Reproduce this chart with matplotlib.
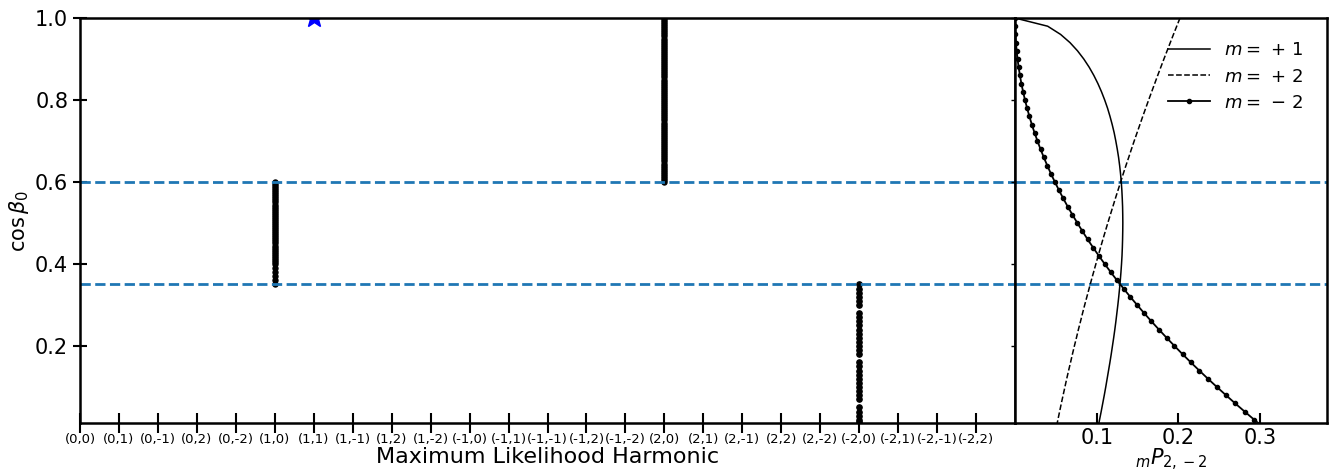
import numpy as np
import matplotlib
matplotlib.use("Agg")
import matplotlib.pyplot as plt

# harmonic labels on the x axis of the left panel
harmonics = ["(0,0)", "(0,1)", "(0,-1)", "(0,2)", "(0,-2)",
             "(1,0)", "(1,1)", "(1,-1)", "(1,2)", "(1,-2)",
             "(-1,0)", "(-1,1)", "(-1,-1)", "(-1,2)", "(-1,-2)",
             "(2,0)", "(2,1)", "(2,-1)", "(2,2)", "(2,-2)",
             "(-2,0)", "(-2,1)", "(-2,-1)", "(-2,2)"]

# cos(beta0) values where each harmonic was the max-likelihood one
cos_h10 = [0.35, 0.36, 0.37, 0.38, 0.39, 0.40, 0.405, 0.41, 0.415, 0.42,
           0.425, 0.43, 0.435, 0.44, 0.445, 0.45, 0.455, 0.46, 0.465, 0.47,
           0.475, 0.48, 0.485, 0.49, 0.495, 0.50, 0.505, 0.51, 0.515, 0.52,
           0.525, 0.53, 0.535, 0.54, 0.545, 0.55, 0.555, 0.56, 0.565, 0.57,
           0.575, 0.58, 0.585, 0.59, 0.595, 0.60]
cos_h20 = [0.600, 0.605, 0.610, 0.615, 0.620, 0.625, 0.630, 0.635, 0.640,
           0.645, 0.650, 0.655, 0.660, 0.665, 0.670, 0.675, 0.680, 0.685,
           0.690, 0.695, 0.700, 0.705, 0.710, 0.715, 0.720, 0.725, 0.730,
           0.735, 0.740, 0.745, 0.750, 0.755, 0.760, 0.765, 0.770, 0.775,
           0.780, 0.785, 0.790, 0.795, 0.800, 0.805, 0.810, 0.815, 0.820,
           0.825, 0.830, 0.835, 0.840, 0.845, 0.850, 0.855, 0.860, 0.865,
           0.870, 0.875, 0.880, 0.885, 0.890, 0.895, 0.900, 0.905, 0.910,
           0.915, 0.920, 0.925, 0.930, 0.935, 0.940, 0.945, 0.950, 0.955,
           0.960, 0.965, 0.970, 0.975, 0.980, 0.985, 0.990, 0.995, 1.000]
cos_hm20 = [0.015, 0.02, 0.03, 0.04, 0.05, 0.07, 0.08, 0.09, 0.10, 0.11,
            0.12, 0.13, 0.14, 0.15, 0.16, 0.18, 0.19, 0.20, 0.21, 0.22,
            0.23, 0.24, 0.25, 0.26, 0.27, 0.28, 0.30, 0.31, 0.32, 0.33,
            0.34, 0.35]
cos_star = [1.0]

# right panel: mP_{2,-2} vs cos(beta0)
cosb = [1.00, 0.98, 0.96, 0.94, 0.92, 0.90, 0.88, 0.86, 0.84, 0.82, 0.80,
        0.78, 0.76, 0.74, 0.72, 0.70, 0.68, 0.66, 0.64, 0.62, 0.60, 0.58,
        0.56, 0.54, 0.52, 0.50, 0.48, 0.46, 0.44, 0.42, 0.40, 0.38, 0.36,
        0.34, 0.32, 0.30, 0.28, 0.26, 0.24, 0.22, 0.20, 0.18, 0.16, 0.14,
        0.12, 0.10, 0.08, 0.06, 0.04, 0.02, 0.00]
p_m1 = [0.0, 0.0400, 0.0558, 0.0673, 0.0765, 0.0842, 0.0908, 0.0965, 0.1015,
        0.1059, 0.1098, 0.1133, 0.1163, 0.1190, 0.1214, 0.1234, 0.1252,
        0.1268, 0.1281, 0.1292, 0.1301, 0.1308, 0.1313, 0.1317, 0.1319,
        0.1320, 0.1319, 0.1317, 0.1314, 0.1310, 0.1304, 0.1297, 0.1289,
        0.1280, 0.1270, 0.1259, 0.1247, 0.1235, 0.1222, 0.1208, 0.1193,
        0.1178, 0.1162, 0.1145, 0.1128, 0.1111, 0.1093, 0.1074, 0.1055,
        0.1035, 0.1015]
p_m2 = [0.2020, 0.1980, 0.1940, 0.1901, 0.1862, 0.1823, 0.1785, 0.1747,
        0.1710, 0.1673, 0.1636, 0.1600, 0.1564, 0.1529, 0.1494, 0.1459,
        0.1425, 0.1392, 0.1358, 0.1325, 0.1293, 0.1261, 0.1229, 0.1198,
        0.1167, 0.1136, 0.1106, 0.1076, 0.1047, 0.1018, 0.0990, 0.0962,
        0.0934, 0.0907, 0.0880, 0.0853, 0.0827, 0.0802, 0.0776, 0.0752,
        0.0727, 0.0703, 0.0680, 0.0656, 0.0633, 0.0611, 0.0589, 0.0567,
        0.0546, 0.0525, 0.0505]
p_mm2 = [0.0, 0.0001, 0.0005, 0.0011, 0.0020, 0.0031, 0.0044, 0.0060, 0.0078,
         0.0099, 0.0122, 0.0148, 0.0176, 0.0206, 0.0239, 0.0275, 0.0312,
         0.0353, 0.0395, 0.0440, 0.0488, 0.0538, 0.0590, 0.0645, 0.0703,
         0.0763, 0.0825, 0.0889, 0.0956, 0.1026, 0.1098, 0.1172, 0.1249,
         0.1329, 0.1410, 0.1495, 0.1581, 0.1670, 0.1762, 0.1856, 0.1952,
         0.2051, 0.2152, 0.2256, 0.2362, 0.2471, 0.2582, 0.2695, 0.2811,
         0.2929, 0.3050]

cuts = [0.6, 0.35]

fig = plt.figure(figsize=(13.31, 4.73), dpi=100)
ax = fig.add_axes([0.0601, 0.1057, 0.7025, 0.8562])
ax2 = fig.add_axes([0.7626, 0.1057, 0.2344, 0.8562], sharey=ax)

idx = {h: i for i, h in enumerate(harmonics)}
ax.plot([idx["(1,0)"]] * len(cos_h10), cos_h10, 'o', color='k', ms=3.6)
ax.plot([idx["(2,0)"]] * len(cos_h20), cos_h20, 'o', color='k', ms=3.6)
ax.plot([idx["(-2,0)"]] * len(cos_hm20), cos_hm20, 'o', color='k', ms=3.8)
ax.plot([idx["(1,1)"]] * len(cos_star), cos_star, '*', color='b', ms=15)

for c in cuts:
    ax.axhline(c, color='tab:blue', ls='--', lw=2)
    ax2.axhline(c, color='tab:blue', ls='--', lw=2)

ax.set_xlim(0, len(harmonics))
ax.set_ylim(0.012, 1.0)
ax.set_xticks(range(len(harmonics)))
ax.set_xticklabels(harmonics, fontsize=9.5)
ax.set_yticks([0.2, 0.4, 0.6, 0.8, 1.0])
ax.tick_params(axis='y', labelsize=15, direction='inout', length=10, width=1.5)
ax.tick_params(axis='x', direction='inout', length=14, width=1.5, pad=0)
ax.set_xlabel("Maximum Likelihood Harmonic", fontsize=16, labelpad=1)
ax.set_ylabel(r"$\cos\beta_0$", fontsize=15, labelpad=3)

ax2.plot(p_m1, cosb, '-', color='k', lw=1.1, label=r"$m=\,+\,1$")
ax2.plot(p_m2, cosb, '--', color='k', lw=1.1, label=r"$m=\,+\,2$")
ax2.plot(p_mm2, cosb, '.-', color='k', lw=1.3, ms=6, label=r"$m=\,-\,2$")
ax2.set_xlim(0, 0.382)
ax2.set_xticks([0.1, 0.2, 0.3])
ax2.tick_params(axis='x', labelsize=15, direction='in', length=7, width=1.5)
ax2.tick_params(axis='y', labelleft=False, direction='out', length=3, width=1)
ax2.set_xlabel(r"${}_mP_{2,-2}$", fontsize=15, labelpad=-1)
ax2.legend(loc='upper right', frameon=False, fontsize=13, handlelength=2.3,
           borderaxespad=0.9, labelspacing=0.45)

for a in (ax, ax2):
    for s in a.spines.values():
        s.set_linewidth(1.8)

fig.savefig("out.png", dpi=100)
